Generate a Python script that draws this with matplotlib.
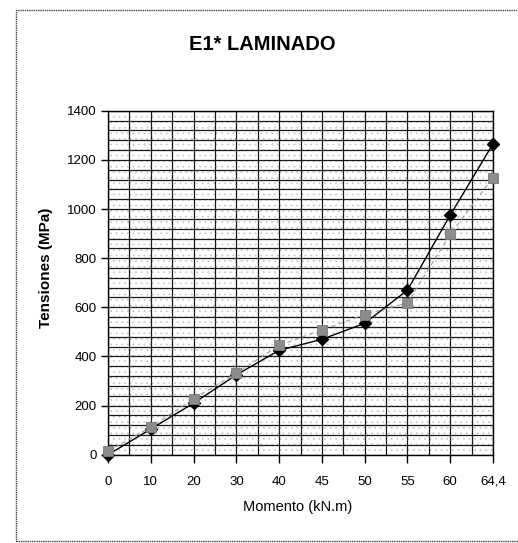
import matplotlib
matplotlib.use("Agg")
import matplotlib.pyplot as plt
from matplotlib.patches import Rectangle
import numpy as np

plt.rcParams['font.family'] = ['Liberation Sans', 'DejaVu Sans']
plt.rcParams['hatch.linewidth'] = 0.5

# Data
momento_labels = ["0", "10", "20", "30", "40", "45", "50", "55", "60", "64,4"]
tension_serie1 = [0, 105, 210, 325, 425, 470, 535, 670, 975, 1265]
tension_serie2 = [15, 112, 228, 332, 445, 508, 570, 618, 897, 1128]
y_ticks = [0, 200, 400, 600, 800, 1000, 1200, 1400]

W, H = 518, 543
fig = plt.figure(figsize=(W / 100, H / 100), dpi=100)

# outer chart frame
frame = Rectangle((16 / W, 1 - 541 / H), (520 - 16) / W, (541 - 10) / H,
                  transform=fig.transFigure, fill=False, edgecolor='#444444',
                  lw=1.0, linestyle=(0, (1, 0.6)))
fig.patches.append(frame)

ax = fig.add_axes([108 / W, 1 - 454.8 / H, (493 - 108) / W, (454.8 - 110.7) / H])

x = np.arange(len(momento_labels))
ax.set_xlim(0, len(momento_labels) - 1)
ax.set_ylim(0, 1400)

# stippled plot background
ax.add_patch(Rectangle((0, 0), 1, 1, transform=ax.transAxes, facecolor='white',
                       hatch='...', edgecolor='#c4c4c4', lw=0, zorder=0))

# grid: half-category verticals, 40 MPa horizontals
for gx in np.arange(0, len(momento_labels) - 1 + 0.01, 0.5):
    ax.axvline(gx, color='#1a1a1a', lw=0.9, zorder=1)
for gy in np.arange(0, 1400 + 1, 40):
    ax.axhline(gy, color='#1a1a1a', lw=0.9, zorder=1)

ax.plot(x, tension_serie1, color='black', lw=1.0, marker='D', ms=6.2,
        mfc='black', mec='black', zorder=3, clip_on=False)
ax.plot(x, tension_serie2, color='#9a9a9a', lw=0.8, linestyle=(0, (4, 3)),
        marker='s', ms=7, mfc='#8c8c8c', mec='#7a7a7a', mew=0.6, zorder=4,
        clip_on=False)

ax.set_xticks(x)
ax.set_xticklabels(momento_labels, fontsize=9.5)
ax.set_yticks(y_ticks)
ax.set_yticklabels([str(v) for v in y_ticks], fontsize=9.5)
ax.tick_params(axis='x', length=6, width=1, pad=9, color='black')
ax.tick_params(axis='y', length=5, width=1, pad=3, color='black')

for s in ax.spines.values():
    s.set_color('black')
    s.set_linewidth(1.0)

fig.text(262 / W, 1 - 45 / H, "E1* LAMINADO", ha='center', va='center',
         fontsize=14.5, fontweight='bold')
fig.text(298 / W, 1 - 507 / H, "Momento (kN.m)", ha='center', va='center',
         fontsize=10.5)
fig.text(46 / W, 1 - 268 / H, "Tensiones (MPa)", ha='center', va='center',
         fontsize=11, fontweight='bold', rotation=90)

fig.savefig("out.png", dpi=100)
